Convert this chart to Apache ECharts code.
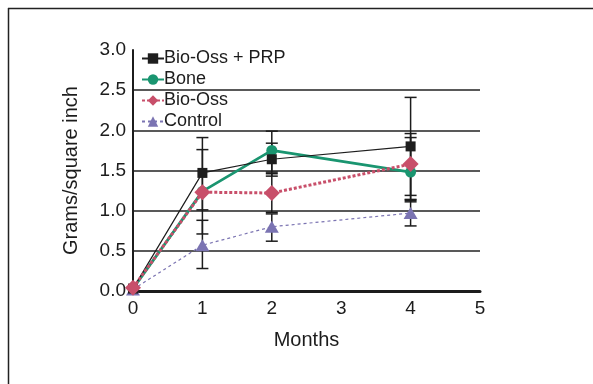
<!DOCTYPE html>
<html>
<head>
<meta charset="utf-8">
<script src="https://cdn.jsdelivr.net/npm/echarts@6/dist/echarts.min.js"></script>
<style>
  html, body { margin: 0; padding: 0; background: #fff; }
  #chart { width: 593px; height: 384px; }
</style>
</head>
<body>
<div id="chart"></div>
<script>
const months = [0, 1, 2, 4]
const seriesNames = ['Bio-Oss + PRP', 'Bone', 'Bio-Oss', 'Control']

const prpValues = [0.03, 1.47, 1.64, 1.80]
const boneValues = [0.03, 1.24, 1.75, 1.48]
const bioOssValues = [0.04, 1.23, 1.22, 1.58]
const controlValues = [0.02, 0.57, 0.80, 0.97]

// error bars: [month, low, high]
const prpErrors = [[1, 1.01, 1.91], [2, 1.43, 1.84], [4, 1.19, 2.41]]
const boneErrors = [[1, 0.71, 1.76], [2, 1.48, 1.99], [4, 1.11, 1.96]]
const bioOssErrors = [[2, 0.98, 1.46], [4, 1.14, 1.91]]
const controlErrors = [[1, 0.28, 0.88], [2, 0.62, 0.96], [4, 0.81, 1.13]]

const yTicks = [0, 0.5, 1.0, 1.5, 2.0, 2.5, 3.0]

const font = 'Liberation Sans, Arial, sans-serif'
const ink = '#1c1c1c'

function pairs(values) {
  return values.map((v, i) => [months[i], v])
}

function errorSeries(data) {
  return {
    type: 'custom',
    silent: true,
    z: 1,
    data: data,
    renderItem(params, api) {
      const x = api.value(0)
      const lo = api.coord([x, api.value(1)])
      const hi = api.coord([x, api.value(2)])
      const half = 6
      const style = { stroke: ink, lineWidth: 1.5 }
      return {
        type: 'group',
        children: [
          { type: 'line', shape: { x1: lo[0], y1: lo[1], x2: hi[0], y2: hi[1] }, style },
          { type: 'line', shape: { x1: lo[0] - half, y1: lo[1], x2: lo[0] + half, y2: lo[1] }, style },
          { type: 'line', shape: { x1: hi[0] - half, y1: hi[1], x2: hi[0] + half, y2: hi[1] }, style },
        ],
      }
    },
  }
}

const chart = echarts.init(document.getElementById('chart'))
chart.setOption({
  animation: false,
  backgroundColor: '#fff',
  textStyle: { fontFamily: font, color: ink },
  // page frame: top and left edges only
  graphic: [
    { type: 'line', shape: { x1: 8, y1: 8.5, x2: 593, y2: 8.5 }, style: { stroke: '#222', lineWidth: 1.5 } },
    { type: 'line', shape: { x1: 8.5, y1: 8, x2: 8.5, y2: 384 }, style: { stroke: '#222', lineWidth: 1.5 } },
  ],
  grid: { left: 133, right: 113, top: 50, bottom: 93 },
  legend: {
    orient: 'vertical',
    left: 136,
    top: 44,
    itemWidth: 22,
    itemHeight: 13,
    itemGap: 2,
    data: seriesNames,
    textStyle: { fontSize: 18, color: ink, fontFamily: font, padding: [0, 0, 0, -5], lineHeight: 19 },
  },
  xAxis: {
    type: 'value',
    min: 0,
    max: 5,
    interval: 1,
    name: 'Months',
    nameLocation: 'middle',
    nameGap: 39,
    nameTextStyle: { fontSize: 20, color: ink, fontFamily: font },
    axisLine: { lineStyle: { color: ink, width: 3 } },
    axisTick: { show: false },
    splitLine: { show: false },
    axisLabel: { fontSize: 19, color: ink, fontFamily: font, margin: 8 },
  },
  yAxis: {
    type: 'value',
    min: 0,
    max: 3,
    interval: 0.5,
    name: 'Grams/square inch',
    nameLocation: 'middle',
    nameGap: 52,
    nameTextStyle: { fontSize: 20, color: ink, fontFamily: font },
    axisLine: { show: true, lineStyle: { color: ink, width: 2 } },
    axisTick: { show: false },
    splitLine: {
      show: true,
      lineStyle: {
        width: 1.5,
        color: yTicks.map((t) => (t === 3 ? 'rgba(0,0,0,0)' : '#222')),
      },
    },
    axisLabel: {
      fontSize: 19,
      color: ink,
      fontFamily: font,
      margin: 7,
      formatter: (v) => v.toFixed(1),
    },
  },
  series: [
    errorSeries(prpErrors),
    errorSeries(boneErrors),
    errorSeries(bioOssErrors),
    errorSeries(controlErrors),
    {
      name: seriesNames[0],
      type: 'line',
      z: 5,
      data: pairs(prpValues),
      symbol: 'rect',
      symbolSize: 10,
      color: '#1e1e1e',
      lineStyle: { color: '#1e1e1e', width: 1.2 },
      itemStyle: { color: '#1e1e1e' },
    },
    {
      name: seriesNames[1],
      type: 'line',
      z: 4,
      data: pairs(boneValues),
      symbol: 'circle',
      symbolSize: 11,
      color: '#1a9570',
      lineStyle: { color: '#1a9570', width: 2.8 },
      itemStyle: { color: '#1a9570' },
    },
    {
      name: seriesNames[2],
      type: 'line',
      z: 6,
      data: pairs(bioOssValues),
      symbol: 'diamond',
      symbolSize: [16, 16],
      color: '#c84f6a',
      lineStyle: { color: '#c84f6a', width: 3, type: [3, 2] },
      itemStyle: { color: '#c84f6a' },
    },
    {
      name: seriesNames[3],
      type: 'line',
      z: 3,
      data: pairs(controlValues),
      symbol: 'triangle',
      symbolSize: [14, 12],
      color: '#7b74b2',
      lineStyle: { color: '#7b74b2', width: 1.2, type: [3, 3] },
      itemStyle: { color: '#7b74b2' },
    },
  ],
})
</script>
</body>
</html>
